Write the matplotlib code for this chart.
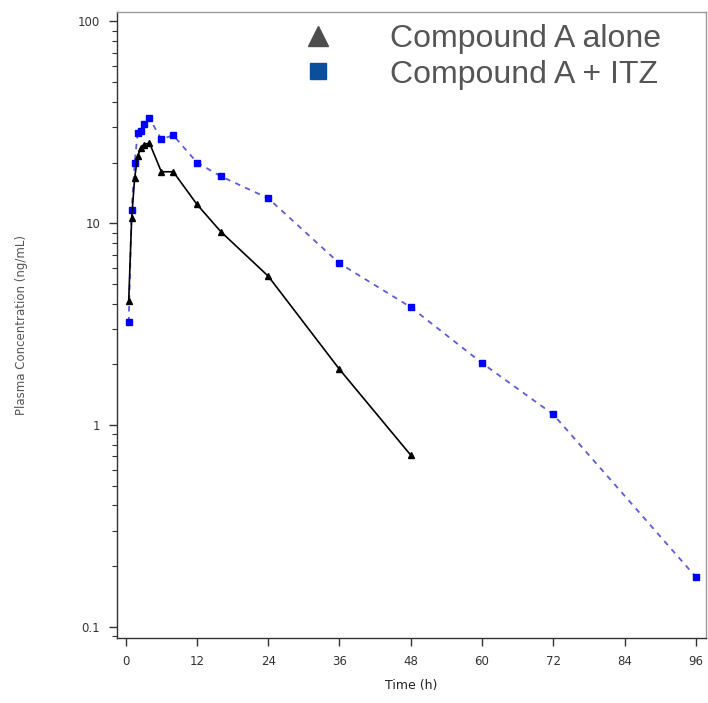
import matplotlib
matplotlib.use("Agg")
import matplotlib.pyplot as plt
from matplotlib.lines import Line2D
from matplotlib.ticker import LogLocator, FixedLocator, NullFormatter

# sampling times (h) and plasma concentrations (ng/mL)
time_alone = [0.5, 1, 1.5, 2, 2.5, 3, 4, 6, 8, 12, 16, 24, 36, 48]
conc_alone = [4.1, 10.6, 16.7, 21.5, 23.5, 24.5, 25.0, 18.0, 18.0, 12.4, 9.1, 5.47, 1.89, 0.71]

time_itz = [0.5, 1, 1.5, 2, 2.5, 3, 4, 6, 8, 12, 16, 24, 36, 48, 60, 72, 96]
conc_itz = [3.23, 11.7, 19.8, 27.9, 28.5, 30.9, 33.1, 26.1, 27.3, 20.0, 17.1, 13.3,
            6.33, 3.84, 2.03, 1.13, 0.177]

x_ticks = [0, 12, 24, 36, 48, 60, 72, 84, 96]
y_ticks = [0.1, 1, 10, 100]
y_tick_labels = ["0.1", "1", "10", "100"]
legend_labels = ["Compound A alone", "Compound A + ITZ"]

plt.rcParams["font.family"] = ["DejaVu Sans"]

fig = plt.figure(figsize=(7.08, 7.03), dpi=100)
ax = fig.add_axes([0.165, 0.0925, 0.832, 0.890])

ax.plot(time_itz, conc_itz, color="#5a5ae6", linestyle=(0, (3, 3)), linewidth=1.3,
        marker="s", markersize=5, markerfacecolor="#0000ff", markeredgecolor="#0000ff")
ax.plot(time_alone, conc_alone, color="black", linewidth=1.2,
        marker="^", markersize=5, markerfacecolor="black", markeredgecolor="black")

ax.set_yscale("log")
ax.set_ylim(0.0882, 111)
ax.set_xlim(-1.5, 97.7)

ax.xaxis.set_major_locator(FixedLocator(x_ticks))
ax.yaxis.set_major_locator(FixedLocator(y_ticks))
ax.set_yticklabels(y_tick_labels)
ax.yaxis.set_minor_locator(LogLocator(base=10, subs=range(2, 10)))
ax.yaxis.set_minor_formatter(NullFormatter())

for s in ax.spines.values():
    s.set_color("#333333")
    s.set_linewidth(1.0)
ax.spines["top"].set_color("#999999")
ax.spines["right"].set_color("#999999")

ax.tick_params(axis="both", which="major", direction="out", length=6, width=1,
               color="#333333", labelsize=8.5, labelcolor="#333333", pad=6)
ax.tick_params(axis="y", which="minor", direction="out", length=3.5, width=0.8,
               color="#333333")

ax.set_xlabel("Time (h)", fontsize=9, color="#222222", labelpad=8)
ax.set_ylabel("Plasma Concentration (ng/mL)", fontsize=8.5, color="#555555", labelpad=36)

handles = [
    Line2D([], [], linestyle="none", marker="^", markersize=15, color="#4d4d4d"),
    Line2D([], [], linestyle="none", marker="s", markersize=12, color="#0b4f9c"),
]
ax.legend(handles, legend_labels, loc="upper left", bbox_to_anchor=(0.404, 0.966),
          bbox_transform=fig.transFigure, frameon=False,
          labelcolor="#555555", handletextpad=1.25, labelspacing=0.18,
          borderpad=0, borderaxespad=0, prop={"family": "Liberation Sans", "size": 23})

fig.savefig("out.png", dpi=100)
